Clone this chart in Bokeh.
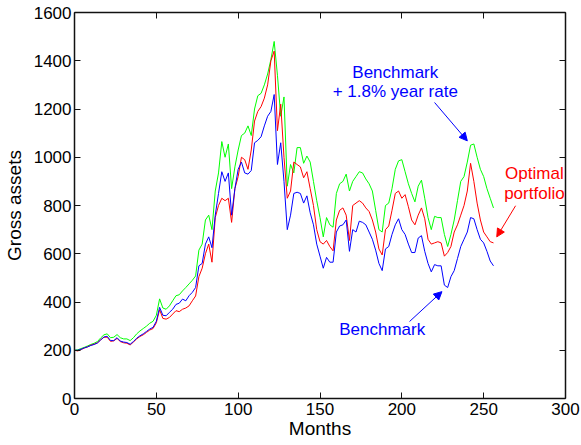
from bokeh.plotting import figure
from bokeh.models import LinearAxis, Label, Arrow, NormalHead, Range1d, FixedTicker
from bokeh.embed import file_html
from bokeh.resources import INLINE

# months sampled every 2 months (0..256)
months = list(range(0, 257, 2))

benchmark = [
    200, 200, 204, 210, 214, 220, 224, 230, 243, 255,
    258, 240, 240, 252, 238, 234, 232, 225, 236, 250,
    260, 268, 278, 288, 295, 320, 378, 345, 343, 357,
    370, 390, 395, 412, 405, 426, 440, 460, 550, 560,
    640, 670, 625, 760, 850, 940, 900, 935, 760, 870,
    950, 980, 935, 930, 945, 1060, 1070, 1085, 1130, 1170,
    1190, 1260, 970, 1060, 900, 700, 760, 850, 855, 850,
    810, 840, 770, 720, 640, 590, 540, 585, 565, 565,
    690, 715, 720, 740, 610, 700, 690, 735, 730, 720,
    690, 660, 615, 560, 530, 620, 630, 680, 720, 745,
    700, 680, 640, 605, 605, 665, 675, 610, 560, 525,
    555, 550, 550, 470, 460, 505, 530, 580, 630, 660,
    690, 750, 745, 700, 660, 645, 610, 570, 550,
]

optimal = [
    200, 197, 203, 209, 214, 221, 225, 231, 243, 254,
    254, 237, 239, 249, 236, 231, 229, 222, 234, 247,
    257, 264, 274, 284, 290, 314, 368, 332, 329, 336,
    350, 364, 360, 370, 375, 384, 405, 425, 505, 540,
    600, 640, 565, 750, 800, 830, 820, 830, 730, 870,
    920, 1000, 990, 950, 1030, 1150, 1190, 1210, 1245, 1300,
    1400, 1440, 1110, 1220, 1000, 830, 860, 980, 970, 960,
    915, 940, 870, 800, 700, 650, 640, 655, 630, 612,
    740, 780, 790, 760, 655, 800, 810, 820, 810, 790,
    775, 740, 690, 620, 595, 700, 715, 780, 850, 860,
    830, 845, 795, 740, 720, 760, 790, 745, 660, 640,
    645, 650, 645, 590, 605, 630, 690, 720, 760, 800,
    860, 975, 900, 810, 740, 690, 670, 650, 645,
]

bench_plus = [
    200, 202, 207, 212, 218, 224, 229, 236, 251, 264,
    268, 252, 254, 265, 252, 247, 247, 240, 252, 268,
    280, 290, 300, 312, 320, 345, 413, 375, 370, 384,
    405, 426, 430, 446, 460, 475, 490, 508, 615, 640,
    740, 760, 700, 860, 935, 1065, 1000, 1055, 870, 960,
    1030, 1090, 1100, 1130, 1090, 1200, 1255, 1265, 1300, 1345,
    1405, 1480, 1340, 1170, 1250, 880, 970, 935, 1040, 1040,
    975, 1005, 980, 900, 820, 750, 670, 750, 720, 710,
    850, 890, 900, 930, 860, 900, 920, 940, 935, 910,
    890, 860, 780, 700, 690, 800, 810, 870, 950, 985,
    990, 940, 890, 850, 815, 880, 905, 830, 750, 700,
    755, 750, 750, 680, 630, 680, 740, 820, 900, 920,
    980, 1050, 1055, 1000, 950, 920, 870, 830, 790,
]

x_ticks = [0, 50, 100, 150, 200, 250, 300]
y_ticks = [0, 200, 400, 600, 800, 1000, 1200, 1400, 1600]

FONT = "Liberation Sans"
BLUE = "#0000ff"
RED = "#ff0000"
GREEN = "#00ff00"

p = figure(width=581, height=445, output_backend="svg", toolbar_location=None,
           x_range=Range1d(0, 300), y_range=Range1d(0, 1600),
           min_border_left=74, min_border_right=16, min_border_top=12, min_border_bottom=47)
p.outline_line_color = None
p.xgrid.visible = False
p.ygrid.visible = False
p.background_fill_color = "white"

p.line(months, bench_plus, line_color=GREEN, line_width=1)
p.line(months, optimal, line_color=RED, line_width=1)
p.line(months, benchmark, line_color=BLUE, line_width=1)

def style(ax, ticks, labels=True):
    ax.ticker = FixedTicker(ticks=ticks)
    ax.minor_tick_line_color = None
    ax.major_tick_in = 6
    ax.major_tick_out = 0
    ax.axis_line_width = 1.5
    ax.axis_line_color = "#111111"
    ax.major_tick_line_color = "#111111"
    ax.major_tick_line_width = 1
    ax.major_label_text_font = FONT
    ax.major_label_text_font_size = "17px"
    ax.major_label_text_color = "black"
    ax.axis_label_text_font = FONT
    ax.axis_label_text_font_size = "19px"
    ax.axis_label_text_font_style = "normal"
    ax.axis_label_text_color = "black"
    if not labels:
        ax.major_label_overrides = {t: "" for t in ticks}
        ax.major_label_standoff = 0

style(p.xaxis[0], x_ticks)
style(p.yaxis[0], y_ticks)
p.xaxis[0].major_label_standoff = 4
p.yaxis[0].major_label_standoff = 3
p.xaxis[0].axis_label = "Months"
p.xaxis[0].axis_label_standoff = 0
p.yaxis[0].axis_label = "Gross assets"
p.yaxis[0].axis_label_standoff = 6

top_ax = LinearAxis()
style(top_ax, x_ticks, labels=False)
p.add_layout(top_ax, "above")
right_ax = LinearAxis()
style(right_ax, y_ticks, labels=False)
p.add_layout(right_ax, "right")

# annotations
def note(x, y, txt, color):
    p.add_layout(Label(x=x, y=y, text=txt, text_font=FONT, text_font_size="17px",
                       text_align="center", text_baseline="middle", text_color=color))

note(196, 1350, "Benchmark", BLUE)
note(196, 1271, "+ 1.8% year rate", BLUE)
note(281, 931, "Optimal", RED)
note(281, 848, "portfolio", RED)
note(188, 285, "Benchmark", BLUE)

def arrow(x0, y0, x1, y1, color):
    p.add_layout(Arrow(end=NormalHead(size=8, fill_color=color, line_color=color, line_width=1),
                       x_start=x0, y_start=y0, x_end=x1, y_end=y1,
                       line_color=color, line_width=1))

arrow(220, 1227, 240, 1068, BLUE)
arrow(269.5, 799, 258, 670, RED)
arrow(204.7, 319, 224.5, 443, BLUE)

open("out.html", "w").write(file_html(p, INLINE))
